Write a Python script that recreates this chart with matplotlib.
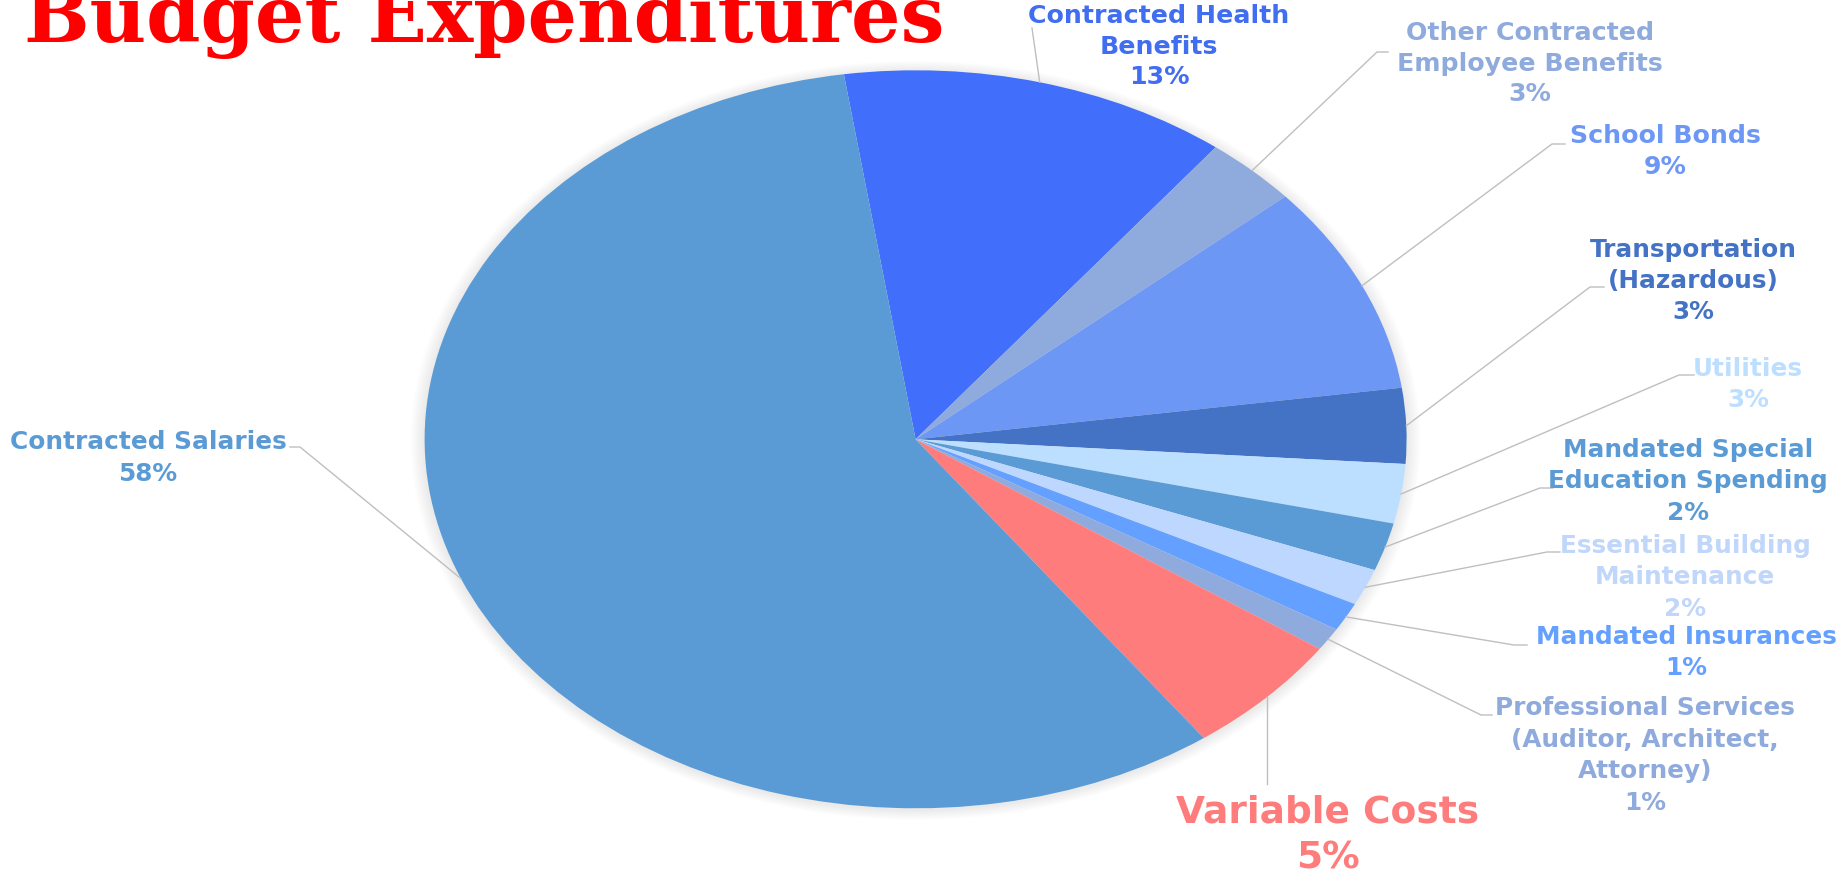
import numpy as np
import matplotlib
matplotlib.use("Agg")
import matplotlib.pyplot as plt
from matplotlib.lines import Line2D
from matplotlib.patches import Circle

# ---------------- data ----------------
categories = ["Contracted Health Benefits", "Other Contracted Employee Benefits",
              "School Bonds", "Transportation (Hazardous)", "Utilities",
              "Mandated Special Education Spending", "Essential Building Maintenance",
              "Mandated Insurances", "Professional Services (Auditor, Architect, Attorney)",
              "Variable Costs", "Contracted Salaries"]
label_lines = ["Contracted Health\nBenefits", "Other Contracted\nEmployee Benefits",
               "School Bonds", "Transportation\n(Hazardous)", "Utilities",
               "Mandated Special\nEducation Spending", "Essential Building\nMaintenance",
               "Mandated Insurances", "Professional Services\n(Auditor, Architect,\nAttorney)",
               "Variable Costs", "Contracted Salaries"]
values = [12.8, 3.1, 9.2, 3.3, 2.6, 2.1, 1.6, 1.25, 1.0, 5.4, 57.65]
colors = ["#416EFA", "#8FAADC", "#6D97F5", "#4472C4", "#BDDFFF", "#5B9BD5",
          "#BDD7FF", "#64A0FF", "#8FAADC", "#FF7C7C", "#5B9BD5"]
text_colors = ["#416EF0", "#8FAADC", "#6D97F5", "#4472C4", "#BDDFFF", "#5B9BD5",
               "#C0D6FA", "#64A0FF", "#8FAADC", "#FF7C7C", "#5B9BD5"]
title = "Budget Expenditures"

# ---------------- layout ----------------
W, H = 1845, 878
fig = plt.figure(figsize=(W / 100, H / 100), dpi=100)
ax = fig.add_axes([0, 0, 1, 1])
cx, cy, rx, ry = 915.6, 440.3, 491, 369   # pie centre / radii in pixels (from top)

# soft shadow behind the pie
for i in range(7):
    ax.add_patch(Circle((0.0, -0.003), 1 + 0.004 * (i + 1), color="black",
                        alpha=0.012, lw=0, zorder=0))

wedges, _ = ax.pie(values, colors=colors, startangle=98.4, counterclock=False,
                   radius=1, center=(0, 0), wedgeprops=dict(linewidth=0, zorder=2))
ax.set_aspect("auto")
ax.set_xlim(-cx / rx, (W - cx) / rx)
ax.set_ylim(-(H - cy) / ry, cy / ry)
ax.axis("off")


def pix(x, y):
    return x / W, 1 - y / H


def edge_pix(w):
    th = np.deg2rad((w.theta1 + w.theta2) / 2)
    d = ax.transData.transform((np.cos(th), np.sin(th)))
    return d[0], H - d[1]


# label positions (centre x, middle y of text block) and leader line bends (pixels from top)
label_pos = [(1159, 46.5), (1530, 63.5), (1665, 151.5), (1693, 281), (1748, 384.5),
             (1688, 481.5), (1685, 577.5), (1686, 652.5), (1645, 755.5), (1328, 835.5),
             (148, 458)]
leader_bends = [[(1032, 29)],
                [(1377, 53), (1388, 53)],
                [(1552, 145), (1565, 145)],
                [(1590, 288), (1604, 288)],
                [(1679, 376), (1694, 376)],
                [(1540, 489), (1553, 489)],
                [(1547, 553), (1560, 553)],
                [(1514, 646), (1527, 646)],
                [(1481, 716), (1492, 716)],
                [None],
                [(300, 448), (290, 448)]]
font_sizes = [18.2, 18.2, 18.2, 17.8, 17.8, 17.8, 17.8, 17.8, 17.8, 27, 17.8]
line_sp = [1.36, 1.36, 1.36, 1.39, 1.39, 1.39, 1.39, 1.39, 1.39, 1.38, 1.39]

for i, w in enumerate(wedges):
    sx, sy = edge_pix(w)
    pts = [(sx, sy)]
    for b in leader_bends[i]:
        if b is None:
            pts.append((sx, 785))
        else:
            pts.append(b)
    xs = [pix(*p)[0] for p in pts]
    ys = [pix(*p)[1] for p in pts]
    fig.add_artist(Line2D(xs, ys, transform=fig.transFigure, color="#BFBFBF", lw=1.0, zorder=3))

    txt = f"{label_lines[i]}\n{round(values[i])}%"
    lx, ly = label_pos[i]
    fig.text(*pix(lx, ly), txt, ha="center", va="center", multialignment="center",
             fontsize=font_sizes[i], fontweight="bold", family="DejaVu Sans",
             color=text_colors[i], linespacing=line_sp[i])

fig.text(*pix(24, 42), title, ha="left", va="baseline", fontsize=56,
         fontweight="bold", family="DejaVu Serif", color="#FF0000")

fig.savefig("out.png", dpi=100, facecolor="white")
